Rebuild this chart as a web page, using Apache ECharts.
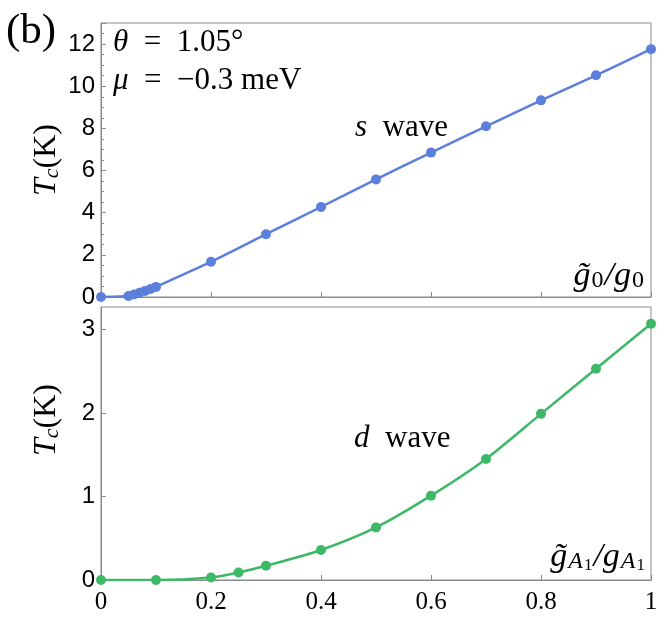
<!DOCTYPE html>
<html>
<head>
<meta charset="utf-8">
<script src="https://cdn.jsdelivr.net/npm/echarts@6/dist/echarts.min.js"></script>
<style>html,body{margin:0;padding:0;background:#fff}#c{width:671px;height:639px}</style>
</head>
<body>
<div id="c"></div>
<script>
// s-wave data (top panel)
var sX = [0, 0.05, 0.06, 0.07, 0.08, 0.09, 0.1, 0.2, 0.3, 0.4, 0.5, 0.6, 0.7, 0.8, 0.9, 1.0];
var sTc = [0, 0.05, 0.12, 0.2, 0.29, 0.38, 0.48, 1.67, 2.98, 4.27, 5.58, 6.85, 8.1, 9.33, 10.52, 11.76];
// d-wave data (bottom panel)
var dX = [0, 0.1, 0.2, 0.25, 0.3, 0.4, 0.5, 0.6, 0.7, 0.8, 0.9, 1.0];
var dTc = [0, 0.0, 0.03, 0.09, 0.17, 0.36, 0.63, 1.01, 1.45, 1.99, 2.53, 3.07];
// axis ticks
var xTicks = [0, 0.2, 0.4, 0.6, 0.8, 1];
var yTopTicks = [0, 2, 4, 6, 8, 10, 12];
var yBotTicks = [0, 1, 2, 3];

var serif = '"Liberation Serif","DejaVu Serif",serif';
var sans = '"Liberation Sans",Arial,sans-serif';
var gray = '#8a8a8a';
var blue = '#5b7fdb';
var green = '#3cb866';

function pairs(xs, ys){ return xs.map(function(x,i){return [x, ys[i]];}); }

var chart = echarts.init(document.getElementById('c'));
var baseX = {
  type: 'value', min: 0, max: 1, interval: 0.2,
  axisLine: {show: true, onZero: false, lineStyle: {color: gray, width: 1}},
  axisTick: {show: true, inside: true, length: 5, lineStyle: {color: gray}},
  splitLine: {show: false}
};
var mathRich = {
  i: {fontFamily: serif, fontStyle: 'italic', fontSize: 31},
  n: {fontFamily: serif, fontSize: 31}
};
var option = {
  animation: false,
  grid: [
    {left: 101, top: 23, width: 550, height: 274, show: true, borderColor: gray, borderWidth: 1, backgroundColor: 'transparent'},
    {left: 101, top: 307, width: 550, height: 273, show: true, borderColor: gray, borderWidth: 1, backgroundColor: 'transparent'}
  ],
  xAxis: [
    Object.assign({}, baseX, {gridIndex: 0, axisLabel: {show: false}}),
    Object.assign({}, baseX, {gridIndex: 1, axisLabel: {show: true, color: '#000', fontFamily: serif, fontSize: 25, margin: 10,
      formatter: function(v){ return String(+v.toFixed(1)); }}})
  ],
  yAxis: [
    {type: 'value', gridIndex: 0, min: 0, max: 13, interval: 2,
     axisLine: {show: true, lineStyle: {color: gray}},
     axisTick: {show: true, inside: true, length: 5, lineStyle: {color: gray}},
     minorTick: {show: true, splitNumber: 4, length: 3, lineStyle: {color: gray}},
     splitLine: {show: false},
     axisLabel: {color: '#000', fontFamily: sans, fontSize: 24, margin: 6, showMaxLabel: false,
       formatter: function(v){ return yTopTicks.indexOf(v) >= 0 ? String(v) : ''; }}},
    {type: 'value', gridIndex: 1, min: 0, max: 3.27, interval: 1,
     axisLine: {show: true, lineStyle: {color: gray}},
     axisTick: {show: true, inside: true, length: 5, lineStyle: {color: gray}},
     splitLine: {show: false},
     axisLabel: {color: '#000', fontFamily: sans, fontSize: 24, margin: 6, showMaxLabel: false,
       formatter: function(v){ return yBotTicks.indexOf(v) >= 0 ? String(v) : ''; }}}
  ],
  series: [
    {type: 'line', xAxisIndex: 0, yAxisIndex: 0, data: pairs(sX, sTc), smooth: 0.15,
     symbol: 'circle', symbolSize: 10, itemStyle: {color: blue}, lineStyle: {color: blue, width: 2.5}, clip: true},
    {type: 'line', xAxisIndex: 1, yAxisIndex: 1, data: pairs(dX, dTc), smooth: 0.25,
     symbol: 'circle', symbolSize: 10, itemStyle: {color: green}, lineStyle: {color: green, width: 2.5}, clip: true}
  ],
  graphic: [
    {type: 'text', left: 6, top: 10, style: {text: '(b)', font: '43px ' + serif, fill: '#000'}},
    {type: 'text', left: 113, top: 27, style: {text: '{i|θ}{n|  =  1.05°}', fill: '#000', rich: mathRich}},
    {type: 'text', left: 113, top: 65, style: {text: '{i|μ}{n|  =  −0.3 meV}', fill: '#000', rich: mathRich}},
    {type: 'text', left: 355, top: 112, style: {text: '{i|s}{n|  wave}', fill: '#000', rich: mathRich}},
    {type: 'text', left: 354, top: 423, style: {text: '{i|d}{n|  wave}', fill: '#000', rich: mathRich}},
    {type: 'text', right: 27, top: 259, style: {
      text: '{i|g̃}{s|0}{i|/g}{s|0}', fill: '#000',
      rich: {i: {fontFamily: serif, fontStyle: 'italic', fontSize: 34, verticalAlign: 'bottom'},
             s: {fontFamily: serif, fontSize: 24, padding: [10, 1, 0, 1], verticalAlign: 'bottom'}}}},
    {type: 'text', right: 26, top: 540, style: {
      text: '{i|g̃}{s|A}{ss|1}{i|/g}{s|A}{ss|1}', fill: '#000',
      rich: {i: {fontFamily: serif, fontStyle: 'italic', fontSize: 34, verticalAlign: 'bottom'},
             s: {fontFamily: serif, fontStyle: 'italic', fontSize: 24, padding: [10, 1, 0, 1], verticalAlign: 'bottom'},
             ss: {fontFamily: serif, fontSize: 17, padding: [19, 1, 0, 0], verticalAlign: 'bottom'}}}},
    {type: 'text', x: 46, y: 160, rotation: Math.PI / 2, style: {
      text: '{i|T}{s|c}{n|(K)}', align: 'center', verticalAlign: 'middle', fill: '#000',
      rich: {i: {fontFamily: serif, fontStyle: 'italic', fontSize: 32, verticalAlign: 'bottom'},
             s: {fontFamily: serif, fontStyle: 'italic', fontSize: 22, padding: [12, 0, 0, 0], verticalAlign: 'bottom'},
             n: {fontFamily: serif, fontSize: 32, verticalAlign: 'bottom'}}}},
    {type: 'text', x: 46, y: 420, rotation: Math.PI / 2, style: {
      text: '{i|T}{s|c}{n|(K)}', align: 'center', verticalAlign: 'middle', fill: '#000',
      rich: {i: {fontFamily: serif, fontStyle: 'italic', fontSize: 32, verticalAlign: 'bottom'},
             s: {fontFamily: serif, fontStyle: 'italic', fontSize: 22, padding: [12, 0, 0, 0], verticalAlign: 'bottom'},
             n: {fontFamily: serif, fontSize: 32, verticalAlign: 'bottom'}}}}
  ]
};
chart.setOption(option);
</script>
</body>
</html>
